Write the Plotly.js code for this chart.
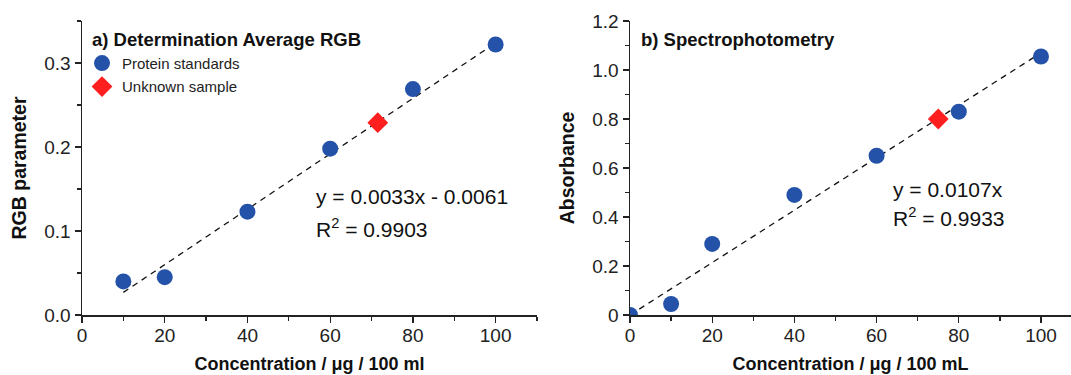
<!DOCTYPE html>
<html>
<head>
<meta charset="utf-8">
<script src="https://cdn.plot.ly/plotly-3.0.1.min.js"></script>
<style>html,body{margin:0;padding:0;background:#fff;}#chart{width:1071px;height:375px;}</style>
</head>
<body>
<div id="chart"></div>
<script>
// Panel a) RGB
const rgbConc = [10, 20, 40, 60, 80, 100];
const rgbValues = [0.040, 0.045, 0.123, 0.198, 0.269, 0.322];
const rgbUnknownConc = [71.5];
const rgbUnknownValue = [0.229];
const rgbSlope = 0.0033, rgbIntercept = -0.0061;
const rgbFitX = [10, 100];

// Panel b) Spectrophotometry
const absConc = [0, 10, 20, 40, 60, 80, 100];
const absValues = [0.0, 0.045, 0.29, 0.49, 0.65, 0.83, 1.055];
const absUnknownConc = [75];
const absUnknownValue = [0.80];
const absSlope = 0.0107;
const absFitX = [0, 100];

const xTickVals = [0, 20, 40, 60, 80, 100];
const yaTickVals = [0.0, 0.1, 0.2, 0.3];
const yaTickText = ['0.0', '0.1', '0.2', '0.3'];
const ybTickVals = [0, 0.2, 0.4, 0.6, 0.8, 1.0, 1.2];
const ybTickText = ['0', '0.2', '0.4', '0.6', '0.8', '1.0', '1.2'];

const BLUE = '#2452a8';
const RED = '#ff1f1f';
const FONT = 'Arial, "Liberation Sans", sans-serif';

const traces = [
  {x: rgbFitX, y: rgbFitX.map(v => rgbSlope * v + rgbIntercept), xaxis: 'x', yaxis: 'y',
   mode: 'lines', line: {color: '#111', width: 1.3, dash: '6px,5px'}, showlegend: false, hoverinfo: 'skip'},
  {x: rgbConc, y: rgbValues, xaxis: 'x', yaxis: 'y', mode: 'markers', name: 'Protein standards',
   legendgroup: 'std', marker: {color: BLUE, size: 16, symbol: 'circle'}},
  {x: rgbUnknownConc, y: rgbUnknownValue, xaxis: 'x', yaxis: 'y', mode: 'markers', name: 'Unknown sample',
   legendgroup: 'unk', marker: {color: RED, size: 16, symbol: 'diamond'}},
  {x: absFitX, y: absFitX.map(v => absSlope * v), xaxis: 'x2', yaxis: 'y2',
   mode: 'lines', line: {color: '#111', width: 1.3, dash: '6px,5px'}, showlegend: false, hoverinfo: 'skip'},
  {x: absConc, y: absValues, xaxis: 'x2', yaxis: 'y2', mode: 'markers', showlegend: false,
   marker: {color: BLUE, size: 16, symbol: 'circle'}},
  {x: absUnknownConc, y: absUnknownValue, xaxis: 'x2', yaxis: 'y2', mode: 'markers', showlegend: false,
   marker: {color: RED, size: 16, symbol: 'diamond'}}
];

const W = 1071;
const axCommon = {
  showgrid: false, zeroline: false, showline: true, linecolor: '#222', linewidth: 1.5,
  ticks: 'outside', ticklen: 6, tickwidth: 1.2, tickcolor: '#222',
  tickfont: {family: FONT, size: 19, color: '#222'},
  automargin: false
};

const layout = {
  width: 1071, height: 375,
  margin: {l: 0, r: 0, t: 21, b: 60},
  paper_bgcolor: '#fff', plot_bgcolor: '#fff',
  font: {family: FONT, color: '#111'},
  showlegend: true,
  legend: {x: 82 / W, y: 0.912, xanchor: 'left', yanchor: 'top', bgcolor: 'rgba(0,0,0,0)',
           font: {family: FONT, size: 15, color: '#222'}, itemsizing: 'trace', tracegroupgap: 1},
  xaxis: Object.assign({}, axCommon, {
    domain: [82 / W, 537 / W], range: [0, 110], tickvals: xTickVals, ticklabelstandoff: -3,
    minor: {dtick: 10, ticks: 'outside', ticklen: 4, tickcolor: '#222', tickwidth: 1.2},
    title: {text: '<b>Concentration / μg / 100 ml</b>', font: {family: FONT, size: 18, color: '#111'}, standoff: 12},
    anchor: 'y'
  }),
  yaxis: Object.assign({}, axCommon, {
    domain: [0, 1], range: [0, 0.35], tickvals: yaTickVals, ticktext: yaTickText,
    minor: {dtick: 0.05, ticks: 'outside', ticklen: 4, tickcolor: '#222', tickwidth: 1.2},
    title: {text: '<b>RGB parameter</b>', font: {family: FONT, size: 19.5, color: '#111'}, standoff: 12},
    anchor: 'x'
  }),
  xaxis2: Object.assign({}, axCommon, {
    domain: [630 / W, 1], range: [0, 107.3], tickvals: xTickVals, ticklabelstandoff: -3,
    minor: {dtick: 10, ticks: 'outside', ticklen: 4, tickcolor: '#222', tickwidth: 1.2},
    title: {text: '<b>Concentration / μg / 100 mL</b>', font: {family: FONT, size: 18, color: '#111'}, standoff: 12},
    anchor: 'y2'
  }),
  yaxis2: Object.assign({}, axCommon, {
    domain: [0, 1], range: [0, 1.2], tickvals: ybTickVals, ticktext: ybTickText,
    minor: {dtick: 0.1, ticks: 'outside', ticklen: 4, tickcolor: '#222', tickwidth: 1.2},
    title: {text: '<b>Absorbance</b>', font: {family: FONT, size: 19.5, color: '#111'}, standoff: 12},
    anchor: 'x2'
  }),
  annotations: [
    {xref: 'paper', yref: 'paper', x: 90 / W, y: (315 - 40) / 294, xanchor: 'left', yanchor: 'middle', showarrow: false,
     text: '<b>a) Determination Average RGB</b>', font: {family: FONT, size: 18.5, color: '#111'}},
    {xref: 'paper', yref: 'paper', x: 639 / W, y: (315 - 40) / 294, xanchor: 'left', yanchor: 'middle', showarrow: false,
     text: '<b>b) Spectrophotometry</b>', font: {family: FONT, size: 18.5, color: '#111'}},
    {xref: 'x', yref: 'y', x: 56.2, y: 0.1405, xanchor: 'left', yanchor: 'middle', showarrow: false,
     text: 'y = 0.0033x - 0.0061', font: {family: FONT, size: 21, color: '#111'}},
    {xref: 'x', yref: 'y', x: 56.2, y: 0.104, xanchor: 'left', yanchor: 'middle', showarrow: false,
     text: 'R<sup>2</sup> = 0.9903', font: {family: FONT, size: 21, color: '#111'}},
    {xref: 'x2', yref: 'y2', x: 63.4, y: 0.512, xanchor: 'left', yanchor: 'middle', showarrow: false,
     text: 'y = 0.0107x', font: {family: FONT, size: 21, color: '#111'}},
    {xref: 'x2', yref: 'y2', x: 63.4, y: 0.40, xanchor: 'left', yanchor: 'middle', showarrow: false,
     text: 'R<sup>2</sup> = 0.9933', font: {family: FONT, size: 21, color: '#111'}}
  ]
};

Plotly.newPlot('chart', traces, layout, {displayModeBar: false, staticPlot: true});
</script>
</body>
</html>
